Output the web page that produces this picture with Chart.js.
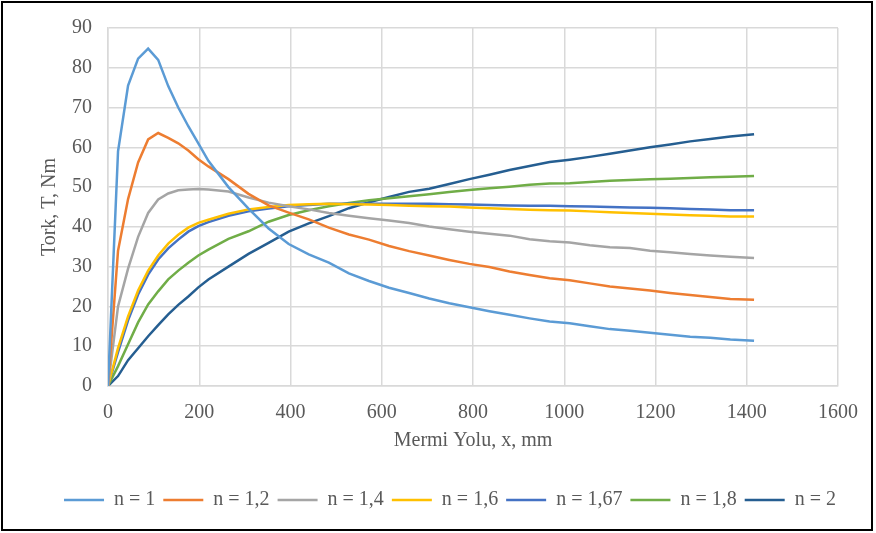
<!DOCTYPE html>
<html>
<head>
<meta charset="utf-8">
<script src="https://cdn.jsdelivr.net/npm/chart.js@4"></script>
<style>
  html, body { margin: 0; padding: 0; background: #fff; }
  #wrap { position: relative; width: 876px; height: 533px; }
  #frame { position: absolute; left: 1px; top: 1px; width: 872px; height: 530px;
           box-sizing: border-box; border: 2px solid #000; pointer-events: none; }
</style>
</head>
<body>
<div id="wrap">
  <canvas id="chart" width="876" height="533"></canvas>
  <div id="frame"></div>
</div>
<script>
// mermi yolu (mm)
const xValues = [0, 22, 44, 66, 88, 110, 132, 154, 176, 198, 220, 264, 308, 352, 396, 440, 484, 528, 572, 616,
  660, 704, 748, 792, 836, 880, 924, 968, 1012, 1056, 1100, 1144, 1188, 1232, 1276, 1320, 1364, 1416];

const seriesNames = ["n = 1", "n = 1,2", "n = 1,4", "n = 1,6", "n = 1,67", "n = 1,8", "n = 2"];
const seriesColors = ["#5B9BD5", "#ED7D31", "#A5A5A5", "#FFC000", "#4472C4", "#70AD47", "#255E91"];

// tork (Nm)
const n1 = [0, 59, 75.5, 82.3, 84.8, 82, 75.4, 70, 65.3, 61, 56.6, 50, 44.6, 39.6, 35.7, 33.1, 31, 28.3, 26.4, 24.7,
  23.4, 22, 20.8, 19.8, 18.8, 17.9, 17.0, 16.2, 15.8, 15.0, 14.3, 13.9, 13.4, 12.9, 12.4, 12.1, 11.7, 11.4];
const n12 = [0, 34, 47, 56.2, 62, 63.6, 62.4, 61, 59.2, 57, 55.2, 52, 48.3, 45.4, 43.6, 41.9, 39.8, 38.1, 36.8, 35.2,
  33.9, 32.8, 31.7, 30.7, 29.9, 28.8, 27.9, 27.1, 26.6, 25.8, 25.0, 24.5, 24.0, 23.4, 22.9, 22.4, 21.9, 21.7];
const n14 = [0, 20, 29.5, 37.5, 43.5, 46.9, 48.4, 49.2, 49.4, 49.5, 49.4, 48.9, 47.4, 46.1, 45.2, 44.4, 43.5, 42.8, 42.2, 41.6,
  41.0, 40.1, 39.4, 38.8, 38.3, 37.8, 36.9, 36.4, 36.1, 35.4, 34.9, 34.7, 34.0, 33.6, 33.2, 32.8, 32.5, 32.2];
const n16 = [0, 9.5, 17.5, 24, 29, 32.8, 35.8, 38, 39.8, 41, 41.8, 43.3, 44.4, 45, 45.5, 45.7, 45.8, 45.7, 45.6, 45.5,
  45.3, 45.2, 45.1, 44.9, 44.7, 44.5, 44.3, 44.2, 44.1, 43.9, 43.7, 43.5, 43.3, 43.1, 42.9, 42.8, 42.6, 42.6];
const n167 = [0, 8.5, 16.5, 23, 28, 31.8, 34.6, 36.8, 38.8, 40.2, 41.2, 42.8, 43.9, 44.6, 45.2, 45.5, 45.8, 45.8, 45.8, 45.8,
  45.8, 45.8, 45.7, 45.6, 45.5, 45.4, 45.3, 45.3, 45.2, 45.1, 45.0, 44.9, 44.8, 44.7, 44.5, 44.4, 44.2, 44.2];
const n18 = [0, 5, 10.5, 16, 20.5, 23.8, 26.8, 29, 31, 32.8, 34.3, 37, 38.9, 41.3, 43, 44.2, 45.2, 46, 46.7, 47.2,
  47.7, 48.2, 48.8, 49.3, 49.7, 50.1, 50.6, 50.9, 51, 51.3, 51.6, 51.8, 52, 52.1, 52.3, 52.5, 52.6, 52.8];
const n2 = [0, 2.5, 6.5, 9.5, 12.5, 15.3, 18, 20.4, 22.5, 24.8, 26.8, 30, 33.2, 36, 38.8, 40.9, 42.7, 44.7, 46.2, 47.5,
  48.8, 49.6, 50.8, 52, 53.1, 54.3, 55.3, 56.3, 56.9, 57.6, 58.4, 59.2, 60, 60.7, 61.5, 62.1, 62.7, 63.3];

const allSeries = [n1, n12, n14, n16, n167, n18, n2];

const FONT = "'Liberation Serif', 'Times New Roman', serif";
const TEXT = "#595959";
const GRID = "#d9d9d9";

const datasets = allSeries.map((vals, i) => ({
  label: seriesNames[i],
  data: vals.map((v, j) => ({ x: xValues[j], y: v })),
  borderColor: seriesColors[i],
  backgroundColor: seriesColors[i],
  borderWidth: 2.5,
  pointRadius: 0,
  tension: 0,
  fill: false
}));

new Chart(document.getElementById('chart'), {
  type: 'line',
  data: { datasets: datasets },
  options: {
    responsive: false,
    animation: false,
    layout: { padding: { left: 24, right: 0, top: 28, bottom: 13 } },
    plugins: {
      tooltip: { enabled: false },
      legend: {
        position: 'bottom',
        labels: {
          font: { family: FONT, size: 20 },
          color: TEXT,
          usePointStyle: true,
          pointStyle: 'line',
          pointStyleWidth: 40,
          padding: 8
        }
      }
    },
    scales: {
      x: {
        type: 'linear',
        min: 0,
        max: 1600,
        ticks: { stepSize: 200, padding: 15, color: TEXT, font: { family: FONT, size: 20 },
                 callback: (v) => String(v) },
        grid: { color: GRID, lineWidth: 1.5, drawTicks: false },
        border: { color: GRID, width: 1.5 },
        title: { display: true, text: 'Mermi Yolu, x, mm', color: TEXT,
                 font: { family: FONT, size: 20 }, padding: { top: 0, bottom: 29 } },
        afterFit: (s) => { s.height = 96; }
      },
      y: {
        min: 0,
        max: 90,
        ticks: { stepSize: 10, padding: 16, color: TEXT, font: { family: FONT, size: 20 } },
        grid: { color: GRID, lineWidth: 1.5, drawTicks: false },
        border: { color: GRID, width: 1.5 },
        title: { display: true, text: 'Tork, T, Nm', color: TEXT,
                 font: { family: FONT, size: 20 }, padding: { top: 14, bottom: 0 } },
        afterFit: (s) => { s.width = 84; }
      },
      // empty right axis, only keeps room on the right side
      yRight: {
        position: 'right',
        display: true,
        grid: { display: false, drawTicks: false },
        ticks: { display: false },
        border: { display: false },
        afterFit: (s) => { s.width = 38; }
      }
    }
  }
});
</script>
</body>
</html>
